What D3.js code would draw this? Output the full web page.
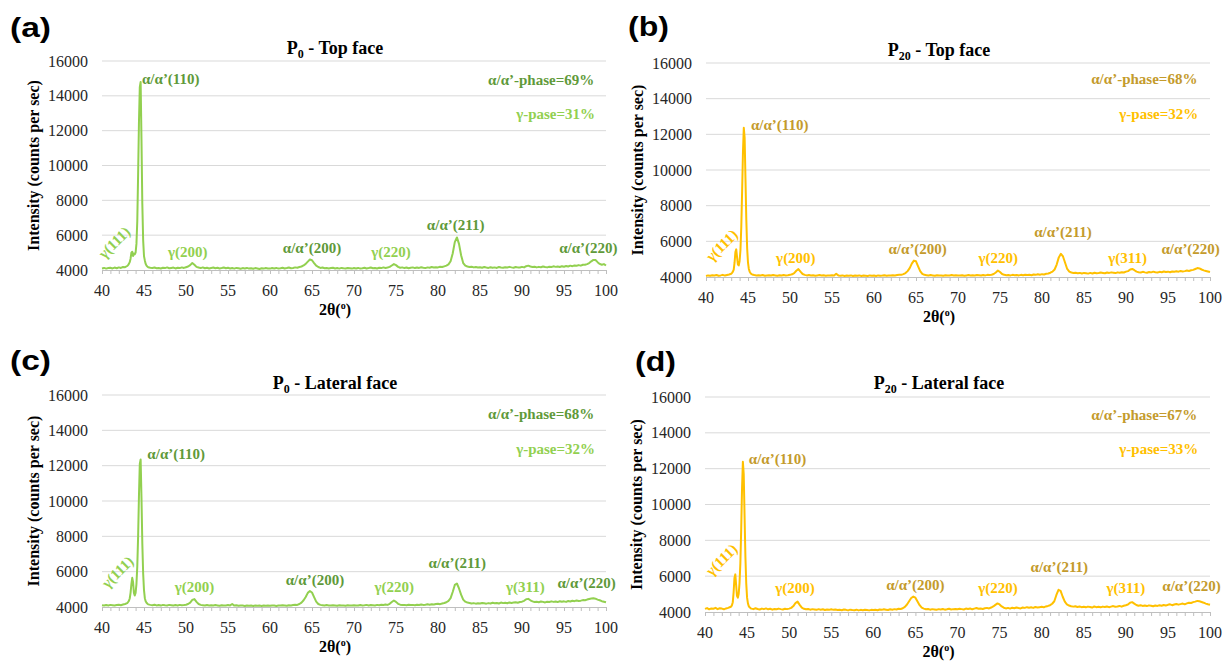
<!DOCTYPE html>
<html><head><meta charset="utf-8">
<script src="https://cdn.jsdelivr.net/npm/d3@7"></script>
<style>body{margin:0;background:#fff}svg{display:block}</style>
</head><body><svg id="c" width="1223" height="661"></svg>
<script>
// 2θ sampling grid (degrees)
const twoTheta = d3.range(0,13).map(i=>+(40+i*0.25).toFixed(2))
  .concat(d3.range(1,25).map(i=>+(43+i*0.1).toFixed(2)))
  .concat(d3.range(0,219).map(i=>+(45.5+i*0.25).toFixed(2)));

const xTicks = [40,45,50,55,60,65,70,75,80,85,90,95,100];
const yTicks = [4000,6000,8000,10000,12000,14000,16000];

// Intensity (counts per sec)
const intensityP0Top = [
4090,4120,4080,4110,4130,4090,4140,4100,4150,4120,4170,4160,4230,
4280,4350,4450,4650,5000,5050,4800,4950,4900,5000,5500,6800,9500,12500,14500,14800,11500,7800,5700,4800,4550,4350,4250,4200,
4160,4130,4110,4140,4100,4120,4090,4130,4110,4150,4100,4120,4140,4090,4130,4110,4150,4120,
4160,4200,4280,4400,4300,4180,4140,4110,4150,4100,4130,4090,4120,4140,4100,4130,4090,4110,4140,4100,
4130,4090,4110,4080,4120,4100,4070,4110,4090,4120,4080,4100,4070,4110,4090,4060,4100,4080,4110,4090,
4080,4110,4090,4120,4080,4100,4130,4090,4110,4140,4100,4120,4150,4130,4170,4200,4260,4350,4480,4600,
4560,4400,4250,4170,4120,4140,4100,4120,4090,4110,4130,4090,4110,4080,4120,4100,4090,4120,4100,4080,
4110,4090,4120,4080,4100,4130,4090,4110,4140,4100,4120,4090,4130,4110,4150,4120,4140,4180,4260,4340,
4280,4180,4130,4150,4110,4140,4100,4130,4150,4110,4140,4120,4160,4130,4110,4150,4130,4170,4140,4160,
4150,4190,4170,4210,4250,4320,4500,4950,5600,5870,5500,4850,4400,4250,4200,4170,4190,4150,4170,4140,
4160,4130,4170,4140,4120,4160,4130,4150,4120,4170,4140,4130,4160,4140,4180,4150,4130,4170,4150,4140,
4180,4150,4220,4250,4200,4170,4190,4150,4180,4160,4200,4170,4150,4190,4170,4210,4180,4200,4170,4220,
4190,4230,4200,4250,4220,4260,4240,4280,4250,4300,4300,4340,4400,4500,4580,4570,4450,4350,4300,4340,4260];

const intensityP20Top = [
4060,4090,4070,4100,4080,4110,4070,4090,4120,4080,4110,4140,4180,
4230,4300,4420,4800,5400,5550,5100,4700,4650,4900,5500,6800,8800,11000,12370,11800,9500,7200,5600,4800,4450,4300,4220,4170,
4140,4110,4090,4100,4080,4110,4070,4090,4100,4080,4110,4090,4070,4100,4080,4110,4090,4100,
4120,4150,4220,4350,4440,4300,4170,4120,4090,4110,4080,4100,4070,4090,4110,4080,4100,4070,4090,4080,
4100,4080,4180,4090,4070,4090,4060,4080,4070,4090,4060,4080,4070,4090,4060,4080,4070,4060,4090,4070,
4080,4060,4090,4070,4080,4100,4070,4090,4080,4100,4090,4110,4130,4120,4160,4220,4330,4500,4750,4920,
4880,4600,4330,4180,4120,4100,4080,4110,4090,4070,4100,4080,4090,4070,4100,4080,4090,4110,4080,4100,
4090,4080,4100,4070,4090,4110,4080,4100,4090,4110,4100,4080,4110,4090,4120,4110,4130,4170,4250,4360,
4280,4170,4120,4100,4110,4090,4120,4100,4110,4090,4120,4100,4130,4110,4120,4100,4140,4120,4150,4130,
4160,4140,4180,4200,4240,4300,4420,4700,5100,5300,5150,4800,4450,4300,4250,4220,4240,4210,4230,4200,
4230,4210,4190,4230,4200,4240,4210,4220,4250,4230,4210,4250,4230,4260,4240,4220,4260,4240,4270,4250,
4300,4330,4420,4450,4380,4300,4270,4250,4290,4260,4240,4280,4260,4300,4270,4250,4290,4270,4310,4280,
4300,4270,4310,4290,4320,4300,4340,4310,4330,4360,4340,4380,4400,4450,4500,4480,4420,4370,4340,4310,4280];

const intensityP0Lateral = [
4100,4080,4110,4090,4120,4100,4080,4110,4130,4100,4140,4170,4220,
4280,4350,4480,4800,5300,5650,5400,4800,4650,4800,5300,6300,8000,10300,12100,12350,10200,7600,5900,4950,4500,4320,4240,4190,
4150,4120,4100,4130,4090,4110,4080,4120,4100,4090,4120,4100,4080,4110,4090,4120,4100,4110,
4130,4170,4250,4400,4450,4290,4170,4120,4100,4080,4110,4090,4100,4080,4110,4090,4070,4100,4080,4090,
4110,4090,4170,4080,4100,4070,4090,4080,4060,4090,4070,4080,4060,4090,4070,4080,4060,4090,4070,4080,
4070,4090,4080,4060,4090,4080,4100,4090,4070,4100,4090,4110,4130,4120,4170,4250,4380,4570,4800,4900,
4820,4560,4300,4170,4120,4100,4080,4110,4090,4080,4100,4090,4070,4100,4080,4090,4070,4100,4090,4080,
4100,4090,4080,4110,4090,4100,4120,4090,4110,4100,4090,4120,4100,4130,4110,4140,4120,4180,4280,4370,
4290,4180,4130,4110,4120,4100,4130,4110,4120,4100,4130,4110,4140,4120,4130,4150,4130,4160,4140,4170,
4180,4160,4200,4230,4270,4350,4500,4850,5250,5330,5050,4700,4420,4300,4250,4230,4200,4220,4190,4210,
4200,4230,4210,4190,4220,4200,4240,4210,4230,4200,4250,4220,4240,4210,4260,4230,4250,4270,4240,4280,
4300,4350,4440,4460,4380,4320,4280,4300,4270,4310,4290,4260,4300,4280,4320,4290,4310,4280,4330,4300,
4320,4290,4340,4310,4350,4330,4370,4340,4360,4390,4380,4420,4450,4480,4500,4470,4420,4380,4330,4300,4270];

const intensityP20Lateral = [
4170,4220,4150,4200,4180,4230,4160,4210,4190,4150,4200,4230,4280,
4300,4380,4550,5100,5900,6100,5500,4900,4800,5000,5600,6700,8600,10900,12380,11700,9400,7100,5600,4800,4480,4330,4260,4220,
4190,4160,4210,4170,4140,4190,4160,4200,4150,4180,4130,4170,4150,4190,4160,4140,4180,4160,
4190,4230,4330,4500,4580,4400,4240,4180,4150,4170,4130,4160,4140,4120,4160,4130,4150,4110,4140,4120,
4150,4120,4140,4110,4130,4100,4140,4120,4090,4130,4110,4100,4130,4090,4120,4100,4130,4110,4090,4120,
4110,4130,4100,4140,4120,4150,4130,4110,4150,4130,4160,4140,4180,4170,4210,4290,4420,4600,4780,4860,
4800,4590,4380,4240,4190,4150,4170,4130,4160,4140,4120,4160,4140,4170,4130,4150,4180,4140,4160,4170,
4150,4180,4160,4140,4190,4170,4200,4150,4190,4220,4180,4200,4170,4210,4230,4200,4250,4310,4400,4480,
4420,4310,4240,4200,4230,4190,4240,4210,4250,4220,4200,4250,4230,4270,4240,4260,4230,4280,4250,4270,
4290,4260,4310,4340,4380,4460,4600,4950,5240,5180,4850,4580,4420,4360,4320,4300,4320,4280,4310,4270,
4290,4260,4300,4280,4250,4310,4270,4290,4260,4300,4280,4310,4270,4300,4330,4290,4310,4340,4300,4350,
4380,4420,4520,4550,4470,4390,4350,4380,4340,4360,4330,4370,4350,4320,4360,4340,4380,4350,4390,4360,
4400,4430,4380,4420,4450,4410,4440,4470,4430,4480,4520,4500,4550,4580,4620,4600,4560,4520,4470,4430,4400];

// Peak annotations [text, 2θ, intensity, kind]  kind: a = α/α' (dark), g = γ (light), r = rotated γ
const peaksP0Top = [
 ["α/α’(110)",44.76,14665,"s"],["γ(111)",41.45,5580,"r"],["γ(200)",50.2,4745,"g"],["α/α’(200)",65.0,4975,"a"],
 ["γ(220)",74.4,4745,"g"],["α/α’(211)",82.1,6290,"a"],["α/α’(220)",97.9,4975,"a"]];
const peaksP20Top = [
 ["α/α’(110)",45.35,12240,"s"],["γ(111)",41.87,5780,"r"],["γ(200)",50.7,4800,"g"],["α/α’(200)",65.2,5300,"a"],
 ["γ(220)",74.8,4800,"g"],["α/α’(211)",82.5,6270,"a"],["γ(311)",90.2,4800,"g"],["α/α’(220)",97.7,5300,"a"]];
const peaksP0Lateral = [
 ["α/α’(110)",45.4,12355,"s"],["γ(111)",41.85,5984,"r"],["γ(200)",51.0,4850,"g"],["α/α’(200)",65.35,5230,"a"],
 ["γ(220)",74.8,4850,"g"],["α/α’(211)",82.3,6230,"a"],["γ(311)",90.4,4850,"g"],["α/α’(220)",97.7,5050,"a"]];
const peaksP20Lateral = [
 ["α/α’(110)",45.2,12250,"s"],["γ(111)",41.96,6920,"r"],["γ(200)",50.7,5060,"g"],["α/α’(200)",65.0,5240,"a"],
 ["γ(220)",74.8,5060,"g"],["α/α’(211)",82.1,6260,"a"],["γ(311)",90.0,5060,"g"],["α/α’(220)",97.8,5190,"a"]];

const phaseAlpha = ["α/α’-phase=69%","α/α’-phase=68%","α/α’-phase=68%","α/α’-phase=67%"];
const phaseGamma = ["γ-pase=31%","γ-pase=32%","γ-pase=32%","γ-pase=33%"];
const panelLetters = ["(a)","(b)","(c)","(d)"];
const sampleSubs = ["0","20","0","20"];
const faceNames = ["Top face","Top face","Lateral face","Lateral face"];

const GREEN = {line:"#92d050", dark:"#5f9a3a", light:"#92d050"};
const GOLD  = {line:"#ffc000", dark:"#c49b2c", light:"#ffc000"};

const panels = [
 {series:intensityP0Top, peaks:peaksP0Top, col:GREEN, l:102,r:606,t:61,b:270, lx:10,ly:37, tx:335,ty:54, phY:[14600,12660], phX:98.6},
 {series:intensityP20Top, peaks:peaksP20Top, col:GOLD, l:706,r:1210,t:63,b:277, lx:628,ly:36, tx:939,ty:56, phY:[14800,12840], phX:98.5},
 {series:intensityP0Lateral, peaks:peaksP0Lateral, col:GREEN, l:102,r:606,t:395,b:607, lx:10,ly:370, tx:335,ty:389, phY:[14620,12660], phX:98.6},
 {series:intensityP20Lateral, peaks:peaksP20Lateral, col:GOLD, l:705,r:1210,t:397,b:612, lx:635,ly:371, tx:939,ty:389, phY:[14740,12810], phX:98.5}
];

const SERIF = "'Liberation Serif','Times New Roman',serif";
const svg = d3.select("#c");

panels.forEach((p,i)=>{
  const x = d3.scaleLinear().domain([40,100]).range([p.l,p.r]);
  const y = d3.scaleLinear().domain([4000,16000]).range([p.b,p.t]);
  const g = svg.append("g");

  // gridlines
  g.selectAll(".grid").data(yTicks.slice(1)).join("line")
    .attr("x1",p.l).attr("x2",p.r).attr("y1",d=>y(d)).attr("y2",d=>y(d))
    .attr("stroke","#d9d9d9").attr("stroke-width",1);

  // x axis (minor ticks every degree)
  const xa = d3.axisBottom(x).tickValues(d3.range(40,101,1)).tickSize(4).tickFormat("");
  const ax = g.append("g").attr("transform",`translate(0,${p.b})`).call(xa);
  ax.select(".domain").attr("stroke","#bfbfbf");
  ax.selectAll(".tick line").attr("stroke","#bfbfbf");

  // x tick labels
  g.selectAll(".xl").data(xTicks).join("text")
    .attr("x",d=>x(d)).attr("y",p.b+26).attr("text-anchor","middle")
    .attr("font-family",SERIF).attr("font-size",16).attr("fill","#262626").text(d=>d);
  // y tick labels
  g.selectAll(".yl").data(yTicks).join("text")
    .attr("x",p.l-14).attr("y",d=>y(d)).attr("dy","0.35em").attr("text-anchor","end")
    .attr("font-family",SERIF).attr("font-size",16).attr("fill","#262626").text(d=>d);

  // data line
  const pts = d3.zip(twoTheta, p.series);
  g.append("path").datum(pts)
    .attr("d", d3.line().x(d=>x(d[0])).y(d=>y(d[1])))
    .attr("fill","none").attr("stroke",p.col.line).attr("stroke-width",2).attr("stroke-linejoin","round");

  // axis titles
  const cy = (p.t+p.b)/2;
  g.append("text").attr("transform",`translate(${p.l-69},${cy}) rotate(-90)`)
    .attr("text-anchor","middle").attr("dy","0.35em")
    .attr("font-family",SERIF).attr("font-weight","bold").attr("font-size",16).attr("fill","#000")
    .text("Intensity (counts per sec)");
  const xt = g.append("text").attr("x",(p.l+p.r)/2 - 19).attr("y",p.b+45).attr("text-anchor","middle")
    .attr("font-family",SERIF).attr("font-weight","bold").attr("font-size",16).attr("fill","#000");
  xt.append("tspan").text("2θ(");
  xt.append("tspan").attr("font-size",10).attr("dy",-6).text("o");
  xt.append("tspan").attr("dy",6).text(")");

  // chart title
  const tt = g.append("text").attr("x",p.tx).attr("y",p.ty).attr("text-anchor","middle")
    .attr("font-family",SERIF).attr("font-weight","bold").attr("font-size",18).attr("fill","#000");
  tt.append("tspan").text("P");
  tt.append("tspan").attr("font-size",12).attr("dy",4).text(sampleSubs[i]);
  tt.append("tspan").attr("dy",-4).text(" - " + faceNames[i]);

  // panel letter
  g.append("text").attr("x",p.lx).attr("y",p.ly)
    .attr("font-family","'Liberation Sans',Arial,sans-serif").attr("font-weight","bold")
    .attr("font-size",27).attr("textLength",41).attr("lengthAdjust","spacingAndGlyphs")
    .attr("fill","#000").text(panelLetters[i]);

  // phase fractions
  g.append("text").attr("x",x(p.phX)).attr("y",y(p.phY[0])).attr("text-anchor","end")
    .attr("font-family",SERIF).attr("font-weight","bold").attr("font-size",15).attr("fill",p.col.dark).text(phaseAlpha[i]);
  g.append("text").attr("x",x(p.phX+0.1)).attr("y",y(p.phY[1])).attr("text-anchor","end")
    .attr("font-family",SERIF).attr("font-weight","bold").attr("font-size",15).attr("fill",p.col.light).text(phaseGamma[i]);

  // peak labels
  p.peaks.forEach(([t,px,py,k])=>{
    const tx = g.append("text").attr("font-family",SERIF).attr("font-weight","bold").attr("font-size",15).text(t);
    if(k==="r"){
      tx.attr("transform",`translate(${x(px)},${y(py)}) rotate(-45)`).attr("text-anchor","middle").attr("dy","0.35em")
        .attr("fill",p.col.light);
    } else {
      tx.attr("x",x(px)).attr("y",y(py)).attr("text-anchor",k==="s"?"start":"middle")
        .attr("fill",k==="g"?p.col.light:p.col.dark);
    }
  });
});
</script></body></html>
